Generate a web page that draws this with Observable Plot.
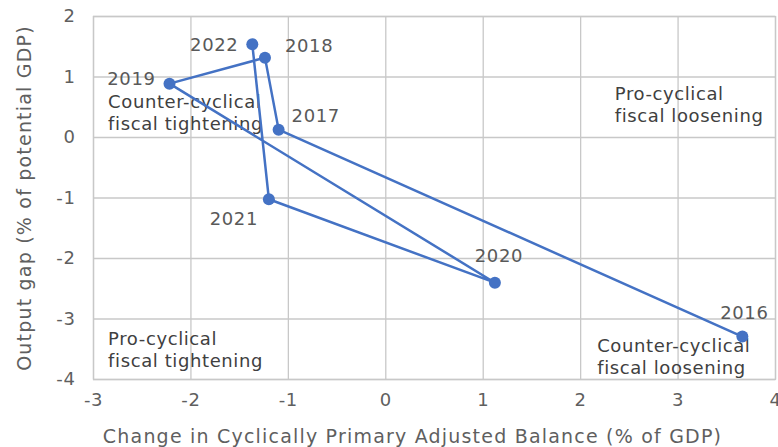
<!DOCTYPE html>
<html>
<head>
<meta charset="utf-8">
<script src="https://cdn.jsdelivr.net/npm/d3@7"></script>
<script src="https://cdn.jsdelivr.net/npm/@observablehq/plot@0.6"></script>
<style>
  html, body { margin: 0; padding: 0; background: #fff; }
  #chart svg { display: block; }
</style>
</head>
<body>
<div id="chart"></div>
<script>
// Data
const years = ["2016", "2017", "2018", "2019", "2020", "2021", "2022"];
const cpab = [3.66, -1.10, -1.24, -2.22, 1.12, -1.20, -1.37];
const outputGap = [-3.29, 0.13, 1.32, 0.89, -2.40, -1.02, 1.54];
const xTicks = [-3, -2, -1, 0, 1, 2, 3, 4];
const yTicks = [-4, -3, -2, -1, 0, 1, 2];
const quadrantTexts = [
  "Counter-cyclical\nfiscal tightening",
  "Pro-cyclical\nfiscal loosening",
  "Pro-cyclical\nfiscal tightening",
  "Counter-cyclical\nfiscal loosening"
];
const quadrantX = [-2.85, 2.35, -2.85, 2.17];
const quadrantY = [0.42, 0.55, -3.50, -3.61];

const points = years.map((yr, i) => ({year: yr, x: cpab[i], y: outputGap[i]}));
const quads = quadrantTexts.map((t, i) => ({text: t, x: quadrantX[i], y: quadrantY[i]}));

// label placement (pixel offsets)
const place = {
  "2016": {dx: 2, dy: -23, anchor: "middle"},
  "2017": {dx: 13, dy: -13, anchor: "start"},
  "2018": {dx: 20, dy: -11, anchor: "start"},
  "2019": {dx: -14, dy: -4, anchor: "end"},
  "2020": {dx: 4, dy: -26, anchor: "middle"},
  "2021": {dx: -35, dy: 20, anchor: "middle"},
  "2022": {dx: -14, dy: 1, anchor: "end"}
};
const labelMarks = points.map(p => Plot.text([p], {
  x: "x", y: "y", text: "year",
  dx: place[p.year].dx, dy: place[p.year].dy,
  textAnchor: place[p.year].anchor,
  fill: "#595959", fontSize: 18
}));

const fmt = d => String(d);
const blue = "#4472C4";
const chart = Plot.plot({
  width: 778,
  height: 447,
  marginLeft: 93,
  marginRight: 3,
  marginTop: 16,
  marginBottom: 68,
  style: {fontFamily: "'DejaVu Sans', sans-serif", fontSize: "18px", letterSpacing: "0.6px", color: "#5f5f5f", background: "#fff"},
  x: {domain: [-3, 4], ticks: xTicks, tickFormat: fmt, tickSize: 0, tickPadding: 14, label: "Change in Cyclically Primary Adjusted Balance (% of GDP)", labelAnchor: "center", labelOffset: 63, labelArrow: "none"},
  y: {domain: [-4, 2], ticks: yTicks, tickFormat: fmt, tickSize: 0, tickPadding: 18, label: "Output gap (% of potential GDP)", labelAnchor: "center", labelOffset: 76, labelArrow: "none"},
  marks: [
    Plot.gridX(xTicks, {stroke: "#c8c8c8", strokeOpacity: 1, strokeWidth: 1.3}),
    Plot.gridY(yTicks, {stroke: "#c8c8c8", strokeOpacity: 1, strokeWidth: 1.3}),
    Plot.frame({stroke: "#c8c8c8", strokeWidth: 1.3}),
    Plot.text(quads, {x: "x", y: "y", text: "text", textAnchor: "start", lineAnchor: "middle", lineHeight: 1.22, fill: "#404040", fontSize: 18}),
    Plot.line(points, {x: "x", y: "y", stroke: blue, strokeWidth: 2.5}),
    Plot.dot(points, {x: "x", y: "y", r: 6, fill: blue, stroke: "none"}),
    ...labelMarks
  ]
});
document.getElementById("chart").appendChild(chart);
chart.querySelectorAll("[aria-label='x-axis label'] text, [aria-label='y-axis label'] text").forEach(t => {
  t.setAttribute("font-size", "19");
  t.style.letterSpacing = "1.2px";
});
chart.querySelectorAll("[aria-label='x-axis label'] text").forEach(t => {
  t.setAttribute("dx", "-22");
});
</script>
</body>
</html>
